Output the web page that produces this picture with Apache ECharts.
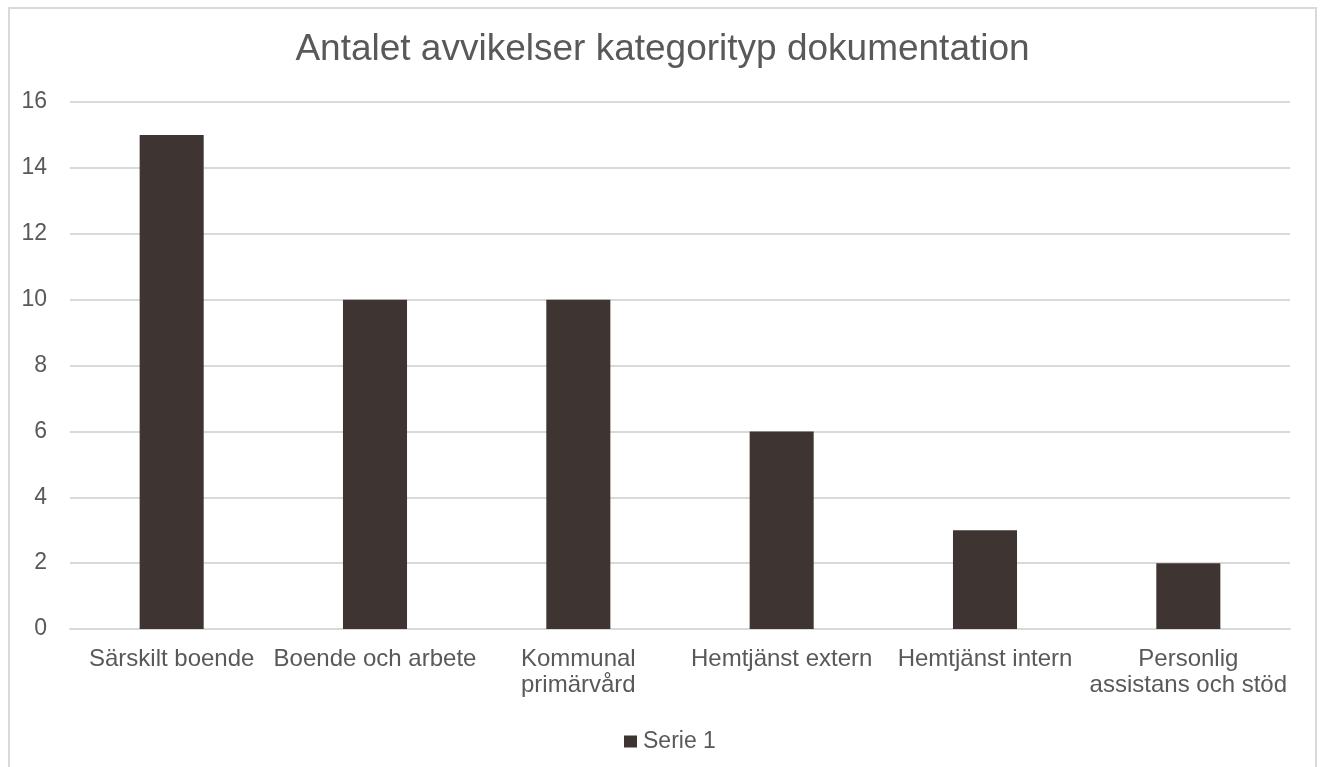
<!DOCTYPE html>
<html>
<head>
<meta charset="utf-8">
<script src="https://cdn.jsdelivr.net/npm/echarts@6/dist/echarts.min.js"></script>
<style>
  html, body { margin: 0; padding: 0; background: #fff; }
  #chart { width: 1325px; height: 767px; }
  #frame { position: absolute; left: 8px; top: 7px; width: 1309px; height: 780px; border: 2px solid #d9d9d9; box-sizing: border-box; pointer-events: none; }
</style>
</head>
<body>
<div id="chart"></div>
<div id="frame"></div>
<script>
var categories = ['Särskilt boende', 'Boende och arbete', 'Kommunal\nprimärvård', 'Hemtjänst extern', 'Hemtjänst intern', 'Personlig\nassistans och stöd']
var serie1 = [15, 10, 10, 6, 3, 2]
var yTicks = [0, 16, 2]

var myChart = echarts.init(document.getElementById('chart'))
var textColor = '#595959'
var option = {
  animation: false,
  textStyle: { fontFamily: 'Liberation Sans, Arial, sans-serif' },
  title: {
    text: 'Antalet avvikelser kategorityp dokumentation',
    left: 'center',
    top: 26,
    textStyle: { fontSize: 37, fontWeight: 'normal', color: textColor }
  },
  legend: {
    bottom: 14,
    left: 624,
    padding: 0,
    icon: 'rect',
    itemWidth: 13,
    itemHeight: 12,
    textStyle: { fontSize: 23, color: textColor, padding: [0, 0, 0, 1] },
    data: ['Serie 1']
  },
  grid: { left: 70, right: 35, top: 102, bottom: 138 },
  xAxis: {
    type: 'category',
    data: categories,
    axisLine: { lineStyle: { color: '#d9d9d9', width: 2 } },
    axisTick: { show: false },
    axisLabel: { fontSize: 24, color: textColor, margin: 17, lineHeight: 26, interval: 0 }
  },
  yAxis: {
    type: 'value',
    min: yTicks[0],
    max: yTicks[1],
    interval: yTicks[2],
    axisLine: { show: false },
    axisTick: { show: false },
    splitLine: { lineStyle: { color: '#d9d9d9', width: 2 } },
    axisLabel: { fontSize: 23, color: textColor, margin: 23 }
  },
  series: [
    {
      name: 'Serie 1',
      type: 'bar',
      data: serie1,
      barWidth: '31.5%',
      itemStyle: { color: '#3e3532' }
    }
  ]
}
myChart.setOption(option)
</script>
</body>
</html>
